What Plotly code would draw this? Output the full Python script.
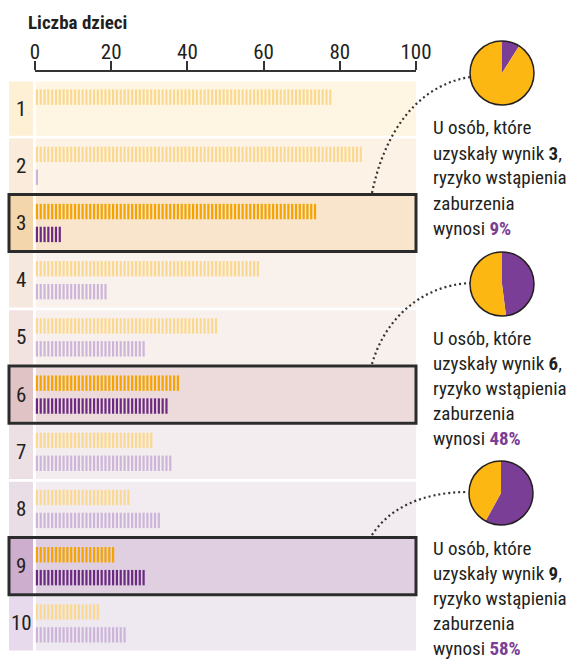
import plotly.graph_objects as go

# ---- data -----------------------------------------------------------------
scores = [1, 2, 3, 4, 5, 6, 7, 8, 9, 10]
no_disorder = [78, 86, 74, 59, 48, 38, 31, 25, 21, 17]
disorder = [0, 1, 7, 19, 29, 35, 36, 33, 29, 24]
highlighted = [3, 6, 9]
risk_pct = [9, 48, 58]
x_ticks = [0, 20, 40, 60, 80, 100]
axis_title = "Liczba dzieci"

# ---- styling ----------------------------------------------------------------
W, H = 572, 663
FONT = "Liberation Sans Narrow, Roboto Condensed, Roboto, sans-serif"
INK = "#231F20"
ORANGE = "#F4A300"
ORANGE_SOFT = "#FBD88F"
PURPLE = "#6A2A82"
PURPLE_SOFT = "#CDB5D9"
PIE_ORANGE = "#FDB713"
PIE_PURPLE = "#7A3E96"

band_colors = ["#FEF6E2", "#FCF3E6", "#F8E5CB", "#F9F1EB", "#F8F0EC",
               "#EDDADA", "#F4EDEF", "#F2ECF0", "#E0CFE1", "#EEE8F1"]
label_colors = ["#FDF0D4", "#FAEBDA", "#F4D6AC", "#F5E8DF", "#F2E3E0",
                "#E0C3C4", "#EDE0E4", "#E9DEE6", "#CDAECF", "#E6DAEC"]


def px(x):
    return x / W


def py(y):
    return 1 - y / H


ROW_TOP, ROW_BOTTOM, AXIS_Y = 80, 652, 72
row_h = (ROW_BOTTOM - ROW_TOP) / len(scores)

fig = go.Figure()


# dash strips: one tick mark per child
def strip(values, offset, strong, soft):
    xs_s, ys_s, xs_f, ys_f = [], [], [], []
    for s, n in zip(scores, values):
        xs = [k - 0.5 for k in range(1, n + 1)]
        ys = [s + offset] * n
        if s in highlighted:
            xs_s += xs
            ys_s += ys
        else:
            xs_f += xs
            ys_f += ys
    for xs, ys, col in ((xs_f, ys_f, soft), (xs_s, ys_s, strong)):
        fig.add_trace(go.Scatter(
            x=xs, y=ys, mode="markers", hoverinfo="skip", showlegend=False,
            marker=dict(symbol="line-ns", size=11,
                        line=dict(width=2.2, color=col)),
        ))


strip(no_disorder, -0.2, ORANGE, ORANGE_SOFT)
strip(disorder, 0.2, PURPLE, PURPLE_SOFT)

shapes = []
annotations = []
gap = 1.4 / row_h
for s, bc, lc in zip(scores, band_colors, label_colors):
    shapes.append(dict(type="rect", xref="paper", yref="y", layer="below",
                       x0=px(36), x1=px(416), y0=s - 0.5 + gap, y1=s + 0.5 - gap,
                       fillcolor=bc, line=dict(width=0)))
    shapes.append(dict(type="rect", xref="paper", yref="y", layer="below",
                       x0=px(9), x1=px(33), y0=s - 0.5 + gap, y1=s + 0.5 - gap,
                       fillcolor=lc, line=dict(width=0)))
    annotations.append(dict(text=str(s), xref="paper", yref="y", x=px(21), y=s,
                            showarrow=False, xanchor="center", yanchor="middle",
                            font=dict(family=FONT, size=21, color=INK)))

# pies, callout texts and dotted connectors
pie_centers = [(502, 73), (502, 284), (501, 493)]
text_tops = [127, 337, 547]
connectors = [
    [(372, 193), (384, 135), (415, 86), (470, 77)],
    [(372, 364), (384, 322), (418, 286), (470, 283)],
    [(372, 535), (388, 510), (420, 492), (468, 492)],
]
R = 32
for s, pct, (cx, cy), ty, pts in zip(highlighted, risk_pct, pie_centers,
                                      text_tops, connectors):
    fig.add_trace(go.Pie(
        values=[pct, 100 - pct], sort=False, direction="clockwise", rotation=0,
        marker=dict(colors=[PIE_PURPLE, PIE_ORANGE], line=dict(width=0)),
        textinfo="none", hoverinfo="skip", showlegend=False,
        domain=dict(x=[px(cx - R), px(cx + R)], y=[py(cy + R), py(cy - R)]),
    ))
    shapes.append(dict(type="circle", xref="paper", yref="paper", layer="above",
                       x0=px(cx - R), x1=px(cx + R), y0=py(cy + R), y1=py(cy - R),
                       line=dict(color=INK, width=1.5)))
    # highlighted row frame
    shapes.append(dict(type="rect", xref="paper", yref="y", layer="above",
                       x0=px(9), x1=px(416), y0=s - 0.5, y1=s + 0.5,
                       line=dict(color="#2B2B2B", width=3)))
    (x0, y0), (x1, y1), (x2, y2), (x3, y3) = pts
    path = (f"M {px(x0)} {py(y0)} C {px(x1)} {py(y1)}, "
            f"{px(x2)} {py(y2)}, {px(x3)} {py(y3)}")
    shapes.append(dict(type="path", xref="paper", yref="paper", path=path,
                       line=dict(color="#333333", width=2.2, dash="2px,3px")))
    lines = [
        "U osób, które",
        f"uzyskały wynik <b>{s}</b>,",
        "ryzyko wstąpienia",
        "zaburzenia",
        f"wynosi <b><span style='color:{PIE_PURPLE}'>{pct}%</span></b>",
    ]
    for k, line in enumerate(lines):
        annotations.append(dict(text=line, xref="paper", yref="paper",
                                x=px(431), y=py(ty + 25 * k + 1),
                                showarrow=False, xanchor="left", yanchor="middle",
                                font=dict(family=FONT, size=19, color=INK)))

annotations.append(dict(text=f"<b>{axis_title}</b>", xref="paper", yref="paper",
                        x=px(26), y=py(23), showarrow=False, xanchor="left",
                        yanchor="middle",
                        font=dict(family=FONT, size=19, color=INK)))

fig.update_layout(
    width=W, height=H, autosize=False, margin=dict(l=0, r=0, t=0, b=0, pad=0),
    paper_bgcolor="white", plot_bgcolor="rgba(0,0,0,0)",
    shapes=shapes, annotations=annotations,
    xaxis=dict(domain=[px(35), px(416)], range=[0, 100], side="top",
               automargin=False,
               tickvals=x_ticks, ticktext=[str(v) for v in x_ticks],
               ticks="outside", ticklen=9, tickwidth=1.5, tickcolor="#333333",
               ticklabelstandoff=-6,
               showline=True, linecolor="#333333", linewidth=1.5,
               showgrid=False, zeroline=False, fixedrange=True,
               tickfont=dict(family=FONT, size=21, color=INK)),
    yaxis=dict(domain=[py(ROW_BOTTOM), py(AXIS_Y)],
               range=[10.5, 0.5 - (ROW_TOP - AXIS_Y) / row_h],
               automargin=False, visible=False, fixedrange=True),
)

fig.write_html("out.html", config={"responsive": False, "displayModeBar": False})
